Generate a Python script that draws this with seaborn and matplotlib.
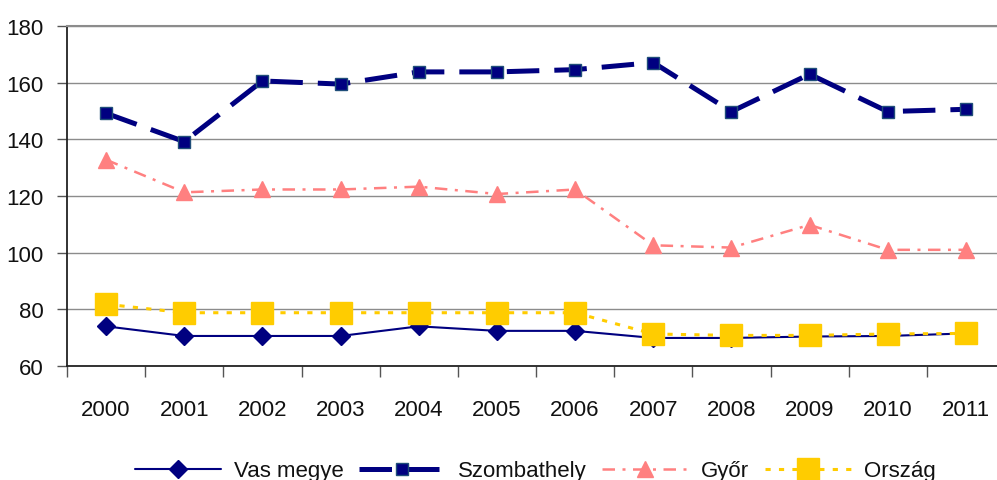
import matplotlib
matplotlib.use("Agg")
import matplotlib.pyplot as plt
import seaborn as sns
import pandas as pd
from matplotlib.lines import Line2D

years = [2000, 2001, 2002, 2003, 2004, 2005, 2006, 2007, 2008, 2009, 2010, 2011]
vas_megye = [74.0, 70.6, 70.6, 70.6, 74.0, 72.4, 72.4, 69.9, 69.9, 70.4, 70.6, 71.5]
szombathely = [149.2, 139.2, 160.6, 159.5, 163.8, 163.8, 164.6, 167.1, 149.8, 163.0, 149.8, 150.6]
gyor = [132.8, 121.3, 122.3, 122.3, 123.3, 120.7, 122.3, 102.6, 101.8, 109.8, 101.0, 101.0]
orszag = [81.8, 78.8, 78.8, 78.8, 78.8, 78.8, 78.8, 71.3, 70.8, 70.8, 71.3, 71.5]
series_names = ["Vas megye", "Szombathely", "Győr", "Ország"]
yticks = [60, 80, 100, 120, 140, 160, 180]

sns.set_theme(style="white")
plt.rcParams["font.family"] = ["Liberation Sans", "DejaVu Sans"]

fig = plt.figure(figsize=(9.97, 4.81), dpi=100)
ax = fig.add_axes([67 / 997, 1 - 367 / 481, (1005 - 67) / 997, (367 - 27) / 481])

styles = {
    "Vas megye": dict(color="#000080", lw=1.5, marker="D", ms=9, mfc="#000080", mec="#000080", dashes=None),
    "Szombathely": dict(color="#000080", lw=3.6, marker="s", ms=9, mfc="#000080", mec="#1F4E79", dashes=(6.5, 3)),
    "Győr": dict(color="#FF8080", lw=1.8, marker="^", ms=11, mfc="#FF8080", mec="#FF8080", dashes=(5, 3, 1.2, 3)),
    "Ország": dict(color="#FFCC00", lw=2.2, marker="s", ms=16, mfc="#FFCC00", mec="#FFCC00", dashes=(1.7, 2.7)),
}
values = {"Vas megye": vas_megye, "Szombathely": szombathely, "Győr": gyor, "Ország": orszag}

handles = []
for name in series_names:
    st = styles[name]
    df = pd.DataFrame({"year": years, "value": values[name]})
    kw = dict(color=st["color"], linewidth=st["lw"], marker=st["marker"], markersize=st["ms"],
              markerfacecolor=st["mfc"], markeredgecolor=st["mec"], markeredgewidth=1)
    sns.lineplot(data=df, x="year", y="value", ax=ax, legend=False, **kw)
    line = ax.lines[-1]
    if st["dashes"] is not None:
        line.set_dashes(st["dashes"])
    h = Line2D([], [], **kw)
    if st["dashes"] is not None:
        h.set_dashes(st["dashes"])
    handles.append(h)

ax.set_xlim(years[0] - 0.5, years[-1] + 0.5)
ax.set_ylim(60, 180)
ax.set_yticks(yticks)
ax.set_xticks(years)
ax.set_xticklabels([str(y) for y in years])
ax.set_xticks([y - 0.5 for y in years] + [years[-1] + 0.5], minor=True)
ax.set_xlabel("")
ax.set_ylabel("")
ax.grid(axis="y", color="#8C8C8C", linewidth=1.0)
ax.grid(axis="x", visible=False)
ax.set_axisbelow(True)

for s in ["left", "bottom"]:
    ax.spines[s].set_color("#222222")
    ax.spines[s].set_linewidth(1.3)
ax.spines["top"].set_color("#8C8C8C")
ax.spines["top"].set_linewidth(1.5)
ax.spines["right"].set_visible(False)

ax.tick_params(axis="y", which="major", direction="out", length=7, width=1, color="#555555",
               labelsize=16, pad=10, left=True, labelcolor="#111111")
ax.tick_params(axis="x", which="major", length=0, labelsize=16, pad=24, labelcolor="#111111")
ax.tick_params(axis="x", which="minor", direction="out", length=8, width=1, color="#555555", bottom=True)

fig.legend(handles, series_names, loc="center", bbox_to_anchor=(535 / 997, 1 - 472 / 481),
           ncol=4, frameon=False, fontsize=16, handlelength=3.9, handletextpad=0.55,
           columnspacing=0.7, borderaxespad=0, labelcolor="#111111")

fig.savefig("out.png", dpi=100)
